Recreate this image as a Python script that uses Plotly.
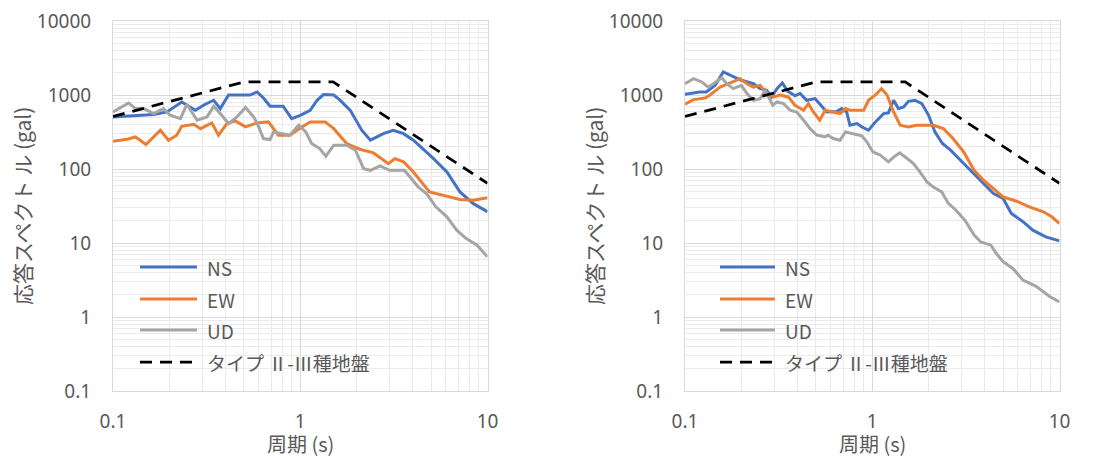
import plotly.graph_objects as go

# ---------------- data ----------------
# Left chart
T_NS_L = [0.1, 0.165, 0.194, 0.233, 0.275, 0.311, 0.345, 0.374, 0.414, 0.478, 0.54, 0.588, 0.636, 0.69, 0.81, 0.9, 1.0, 1.13, 1.23, 1.33, 1.51, 1.63, 1.85, 2.13, 2.37, 2.78, 3.14, 3.56, 4.02, 5.15, 6.07, 7.13, 8.4, 10]
S_NS_L = [506, 544, 590, 806, 622, 750, 849, 655, 1000, 1000, 1000, 1100, 912, 705, 705, 480, 532, 622, 849, 1012, 1000, 850, 620, 334, 245, 301, 334, 300, 245, 138, 91, 49, 34, 26.4]

T_EW_L = [0.1, 0.119, 0.132, 0.15, 0.179, 0.198, 0.219, 0.233, 0.27, 0.293, 0.337, 0.366, 0.406, 0.45, 0.51, 0.588, 0.676, 0.765, 0.88, 1.0, 1.13, 1.36, 1.51, 1.77, 2.08, 2.46, 2.96, 3.2, 3.56, 4.02, 4.9, 5.77, 7.13, 8.4, 9.1, 10]
S_EW_L = [237, 252, 271, 214, 334, 245, 286, 378, 402, 351, 420, 286, 411, 447, 371, 420, 433, 286, 286, 359, 433, 433, 351, 221, 185, 165, 118, 138, 125, 91, 49, 44, 38.7, 37.8, 39, 41]

T_UD_L = [0.1, 0.121, 0.132, 0.146, 0.165, 0.186, 0.202, 0.229, 0.248, 0.281, 0.318, 0.345, 0.374, 0.414, 0.459, 0.51, 0.564, 0.6, 0.636, 0.69, 0.72, 0.81, 0.88, 0.98, 1.07, 1.15, 1.27, 1.37, 1.51, 1.77, 1.97, 2.18, 2.37, 2.67, 3.0, 3.6, 4.27, 4.72, 5.3, 6.07, 6.85, 7.7, 8.8, 10]
S_UD_L = [590, 781, 655, 655, 561, 655, 532, 480, 750, 456, 506, 705, 561, 411, 506, 676, 506, 371, 258, 250, 317, 300, 286, 390, 317, 221, 189, 149, 210, 210, 180, 101, 96, 110, 96, 96, 57, 46.6, 30.8, 22.6, 14.9, 11.5, 9.35, 6.5]

# Right chart
T_NS_R = [0.1, 0.12, 0.13, 0.145, 0.16, 0.178, 0.2, 0.232, 0.252, 0.273, 0.29, 0.31, 0.331, 0.353, 0.387, 0.412, 0.446, 0.495, 0.53, 0.572, 0.647, 0.687, 0.73, 0.76, 0.83, 0.88, 0.955, 1.04, 1.15, 1.22, 1.3, 1.38, 1.47, 1.56, 1.69, 1.84, 2.0, 2.16, 2.37, 2.62, 2.96, 3.35, 3.93, 4.44, 5.0, 5.53, 6.38, 7.2, 8.45, 10]
S_NS_R = [1023, 1100, 1100, 1354, 2050, 1790, 1580, 1420, 1220, 1160, 942, 1220, 1456, 1130, 978, 1050, 849, 893, 727, 590, 600, 655, 590, 390, 411, 371, 334, 433, 561, 573, 849, 655, 690, 820, 849, 765, 532, 317, 221, 180, 131, 96, 64, 46.6, 40, 25.1, 19.4, 14.9, 12.1, 10.7]

T_EW_R = [0.1, 0.111, 0.128, 0.136, 0.154, 0.17, 0.185, 0.197, 0.214, 0.232, 0.252, 0.273, 0.297, 0.322, 0.356, 0.387, 0.43, 0.456, 0.485, 0.524, 0.56, 0.62, 0.673, 0.72, 0.76, 0.9, 0.955, 1.04, 1.12, 1.2, 1.3, 1.41, 1.56, 1.73, 2.12, 2.4, 2.7, 3.08, 3.5, 3.93, 4.44, 5.0, 5.9, 6.9, 8.2, 9.1, 10]
S_EW_R = [750, 866, 912, 1000, 1280, 1420, 1580, 1665, 1420, 1280, 1350, 1050, 942, 1000, 942, 727, 622, 765, 590, 456, 622, 590, 561, 655, 622, 622, 849, 1000, 1220, 1000, 590, 390, 371, 390, 390, 351, 258, 170, 96, 70.6, 54.5, 42, 36.7, 30.8, 26.4, 22.6, 18.3]

T_UD_R = [0.1, 0.111, 0.123, 0.133, 0.142, 0.157, 0.167, 0.181, 0.2, 0.214, 0.232, 0.252, 0.268, 0.294, 0.31, 0.336, 0.364, 0.395, 0.43, 0.466, 0.506, 0.56, 0.58, 0.62, 0.673, 0.72, 0.79, 0.88, 0.935, 1.01, 1.1, 1.22, 1.3, 1.4, 1.5, 1.66, 1.8, 1.96, 2.12, 2.35, 2.55, 2.8, 3.13, 3.5, 3.8, 4.3, 4.6, 5.0, 5.65, 6.38, 7.5, 8.9, 10]
S_UD_R = [1420, 1665, 1500, 1280, 1420, 1717, 1420, 1220, 1350, 1050, 849, 893, 1160, 727, 806, 765, 622, 590, 456, 351, 286, 272, 286, 258, 245, 317, 300, 280, 233, 170, 155, 125, 145, 165, 145, 118, 91, 67, 57, 49, 34.3, 27.7, 20.2, 12.8, 10.3, 9.35, 7.2, 5.58, 4.5, 3.15, 2.6, 1.88, 1.6]

# Design spectrum (Type II, ground class III) corner points
T_STD = [0.1, 0.5, 1.5, 10]
S_STD = [513, 1500, 1500, 64]

SERIES_NAMES = ["NS", "EW", "UD", "タイプ Ⅱ-Ⅲ種地盤"]
X_TITLE = "周期 (s)"
Y_TITLE = "応答スペクト ル (gal)"

# ---------------- style ----------------
COLORS = ["#4472C4", "#ED7D31", "#A5A5A5", "#000000"]
DASHES = ["solid", "solid", "solid", "12px,8px"]
TXT = "#595959"
FONT = "Noto Sans, Noto Sans CJK JP, sans-serif"
JFONT = "Noto Sans CJK JP, Noto Sans, sans-serif"
W, H = 1101, 457

fig = go.Figure()

panels = [
    ("x", "y", [(T_NS_L, S_NS_L), (T_EW_L, S_EW_L), (T_UD_L, S_UD_L), (T_STD, S_STD)]),
    ("x2", "y2", [(T_NS_R, S_NS_R), (T_EW_R, S_EW_R), (T_UD_R, S_UD_R), (T_STD, S_STD)]),
]
for xa, ya, data in panels:
    for i, (t, s) in enumerate(data):
        fig.add_trace(go.Scatter(
            x=t, y=s, mode="lines", name=SERIES_NAMES[i], showlegend=False,
            line=dict(color=COLORS[i], width=3 if i < 3 else 2.75, dash=DASHES[i]),
            xaxis=xa, yaxis=ya))

ytop, ybot = 21, 391
dom_y = [1 - ybot / H, 1 - ytop / H]
left_dom = [113 / W, 487.5 / W]
right_dom = [685 / W, 1059.5 / W]

def xaxis(dom, anchor):
    return dict(domain=dom, anchor=anchor, type="log", range=[-1, 1], dtick=1,
                tickformat="~g", automargin=False,
                showgrid=True, gridcolor="#d9d9d9", gridwidth=1,
                minor=dict(dtick="D1", showgrid=True, gridcolor="#ebebeb", gridwidth=1),
                showline=True, mirror=True, linecolor="#d9d9d9", linewidth=1,
                ticks="", ticklabelstandoff=13,
                tickfont=dict(family=FONT, size=19, color=TXT), zeroline=False)

def yaxis(dom, anchor):
    return dict(domain=dom, anchor=anchor, type="log", range=[-1, 4], dtick=1,
                tickformat="~g", automargin=False,
                showgrid=True, gridcolor="#d9d9d9", gridwidth=1,
                minor=dict(dtick="D1", showgrid=True, gridcolor="#ebebeb", gridwidth=1),
                showline=True, mirror=True, linecolor="#d9d9d9", linewidth=1,
                ticks="", ticklabelstandoff=17,
                tickfont=dict(family=FONT, size=19, color=TXT), zeroline=False)

annotations = []
shapes = []
for dom, line_x0, line_x1, text_x in [(left_dom, 140, 197, 205), (right_dom, 720, 775, 783)]:
    cx = (dom[0] + dom[1]) / 2
    annotations.append(dict(text=X_TITLE, xref="paper", yref="paper", x=cx, y=1 - 443 / H,
                            xanchor="center", yanchor="middle",
                            showarrow=False, font=dict(family=JFONT, size=20, color=TXT)))
    annotations.append(dict(text=Y_TITLE, xref="paper", yref="paper",
                            x=(dom[0] * W - 91) / W, y=(dom_y[0] + dom_y[1]) / 2,
                            xanchor="center", yanchor="middle",
                            textangle=-90, showarrow=False,
                            font=dict(family=JFONT, size=21, color=TXT)))
    for i, yy in enumerate([267, 299, 330, 362]):
        shapes.append(dict(type="line", xref="paper", yref="paper",
                           x0=line_x0 / W, x1=line_x1 / W, y0=1 - yy / H, y1=1 - yy / H,
                           line=dict(color=COLORS[i], width=3 if i < 3 else 2.75, dash=DASHES[i])))
        annotations.append(dict(text=SERIES_NAMES[i], xref="paper", yref="paper",
                                x=text_x / W, y=1 - yy / H, xanchor="left", yanchor="middle",
                                showarrow=False, font=dict(family=JFONT, size=19, color=TXT)))

fig.update_layout(
    width=W, height=H, margin=dict(l=0, r=0, t=0, b=0),
    paper_bgcolor="white", plot_bgcolor="white", showlegend=False,
    xaxis=xaxis(left_dom, "y"), yaxis=yaxis(dom_y, "x"),
    xaxis2=xaxis(right_dom, "y2"), yaxis2=yaxis(dom_y, "x2"),
    annotations=annotations, shapes=shapes,
)

fig.write_html("out.html")
